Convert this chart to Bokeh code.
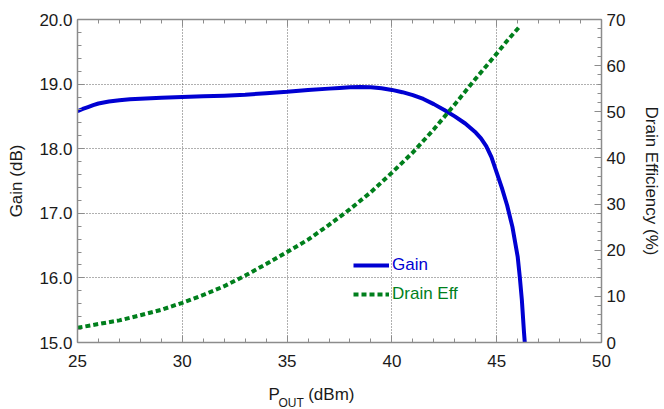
from bokeh.plotting import figure
from bokeh.models import (Range1d, LinearAxis, Legend, LegendItem, Title,
                          SingleIntervalTicker, FixedTicker,
                          NumeralTickFormatter, CustomJSTickFormatter)
from bokeh.embed import file_html
from bokeh.resources import INLINE

# ---- data ----
pout_gain = [25.0, 25.25, 25.5, 25.75, 26.0, 26.5, 27.0, 27.5, 28.0, 29.0,
             30.0, 31.0, 32.0, 33.0, 34.0, 35.0, 36.0, 37.0, 37.5, 38.0, 38.5,
             39.0, 39.5, 40.0, 40.5, 41.0, 41.5, 42.0, 42.5, 43.0, 43.5, 44.0,
             44.25, 44.5, 44.75, 45.0, 45.25, 45.5, 45.75, 46.0, 46.1, 46.2,
             46.3, 46.34]
gain_db = [18.58, 18.615, 18.645, 18.675, 18.70, 18.73, 18.75, 18.765, 18.775,
           18.79, 18.80, 18.81, 18.82, 18.835, 18.86, 18.88, 18.91, 18.93,
           18.94, 18.95, 18.955, 18.95, 18.935, 18.91, 18.875, 18.83, 18.77,
           18.69, 18.60, 18.50, 18.39, 18.25, 18.16, 18.04, 17.87, 17.63,
           17.39, 17.12, 16.79, 16.33, 16.02, 15.66, 15.17, 15.0]

pout_eff = [25.0, 26.0, 27.0, 28.0, 29.0, 30.0, 31.0, 32.0, 33.0, 34.0, 35.0,
            36.0, 37.0, 38.0, 39.0, 40.0, 41.0, 42.0, 43.0, 44.0, 45.0, 45.5,
            46.1]
drain_eff = [3.2, 4.0, 4.8, 5.9, 7.1, 8.6, 10.3, 12.2, 14.5, 17.0, 19.6, 22.3,
             25.5, 28.9, 32.6, 36.8, 41.2, 46.2, 51.6, 57.2, 62.6, 65.4, 68.5]

x_range = (25, 50)
gain_range = (15, 20)
eff_range = (0, 70)

GAIN_COLOR = "#0000d2"
EFF_COLOR = "#007f1c"
AXIS_COLOR = "#8c8c8c"
TEXT_COLOR = "#1a1a1a"
FONT = "Liberation Sans"
FS = "17px"

p = figure(width=664, height=409, output_backend="svg", toolbar_location=None,
           x_range=Range1d(*x_range), y_range=Range1d(*gain_range),
           min_border_left=77, min_border_right=61, min_border_top=19,
           min_border_bottom=67)
p.extra_y_ranges = {"eff": Range1d(*eff_range)}
p.outline_line_color = None
p.background_fill_color = "white"

r_gain = p.line(pout_gain, gain_db, line_color=GAIN_COLOR, line_width=4,
                line_join="round")
r_eff = p.line(pout_eff, drain_eff, line_color=EFF_COLOR, line_width=4,
               line_dash="5 3", y_range_name="eff")


def style_axis(ax, show_labels=True):
    ax.axis_line_color = AXIS_COLOR
    ax.axis_line_width = 1.5
    ax.major_tick_line_color = AXIS_COLOR
    ax.minor_tick_line_color = AXIS_COLOR
    ax.major_tick_in = 7
    ax.major_tick_out = 0
    ax.minor_tick_in = 4
    ax.minor_tick_out = 0
    ax.major_label_text_font = FONT
    ax.major_label_text_color = TEXT_COLOR
    ax.major_label_text_font_size = FS
    ax.axis_label_text_font = FONT
    ax.axis_label_text_font_size = FS
    ax.axis_label_text_font_style = "normal"
    ax.axis_label_text_color = TEXT_COLOR
    if not show_labels:
        ax.formatter = CustomJSTickFormatter(code="return ''")
        ax.major_label_standoff = 0


# bottom x axis
xax = p.xaxis[0]
xax.ticker = SingleIntervalTicker(interval=5, num_minor_ticks=5)
style_axis(xax)
xax.major_label_standoff = 12

# left gain axis
yax = p.yaxis[0]
yax.ticker = SingleIntervalTicker(interval=1, num_minor_ticks=5)
yax.formatter = NumeralTickFormatter(format="0.0")
yax.axis_label = "Gain (dB)"
style_axis(yax)
yax.major_label_standoff = 5
yax.axis_label_standoff = 10

# right efficiency axis
rax = LinearAxis(y_range_name="eff",
                 ticker=SingleIntervalTicker(interval=10, num_minor_ticks=5),
                 axis_label="Drain Efficiency (%)")
style_axis(rax)
rax.major_label_standoff = 5
rax.axis_label_standoff = 14
p.add_layout(rax, "right")

# top axis (ticks only)
tax = LinearAxis(ticker=SingleIntervalTicker(interval=5, num_minor_ticks=5))
style_axis(tax, show_labels=False)
p.add_layout(tax, "above")

# invisible spacer below the x axis (hidden tick, no line, empty label)
spacer = LinearAxis(ticker=FixedTicker(ticks=[sum(x_range) / 2]),
                    formatter=CustomJSTickFormatter(code="return ''"),
                    axis_line_color=None, major_tick_line_color=None,
                    minor_tick_line_color=None, major_tick_in=0,
                    major_tick_out=16, minor_tick_in=0, minor_tick_out=0,
                    major_label_standoff=0)
p.add_layout(spacer, "below")

# grids
for g in (p.xgrid[0], p.ygrid[0]):
    g.grid_line_color = "#606060"
    g.grid_line_dash = "1 2"
    g.grid_line_width = 1
p.xgrid[0].ticker = xax.ticker
p.ygrid[0].ticker = yax.ticker

# x axis title "P_OUT (dBm)" built from two titles below the axis
NB = "\u00a0"
title_main = Title(text="P" + NB * 6 + "(dBm)", align="left", offset=191,
                   standoff=-6, vertical_align="bottom", text_font=FONT,
                   text_font_size=FS, text_font_style="normal",
                   text_color=TEXT_COLOR)
title_sub = Title(text="OUT", align="left", offset=201, standoff=-14,
                  vertical_align="bottom", text_font=FONT,
                  text_font_size="12px", text_font_style="normal",
                  text_color=TEXT_COLOR)
p.add_layout(title_main, "below")
p.add_layout(title_sub, "below")

# legends (one per series so text takes the series colour)
def make_legend(label, renderer, color, y):
    lg = Legend(items=[LegendItem(label=label, renderers=[renderer])],
                location=(276, y), glyph_width=36, glyph_height=20,
                label_height=20, label_standoff=3, padding=0, margin=0,
                border_line_alpha=0, background_fill_alpha=0,
                label_text_font=FONT, label_text_font_size=FS,
                label_text_color=color)
    p.add_layout(lg)

make_legend("Gain", r_gain, GAIN_COLOR, 67)
make_legend("Drain Eff", r_eff, EFF_COLOR, 38)

open("out.html", "w").write(file_html(p, INLINE))
